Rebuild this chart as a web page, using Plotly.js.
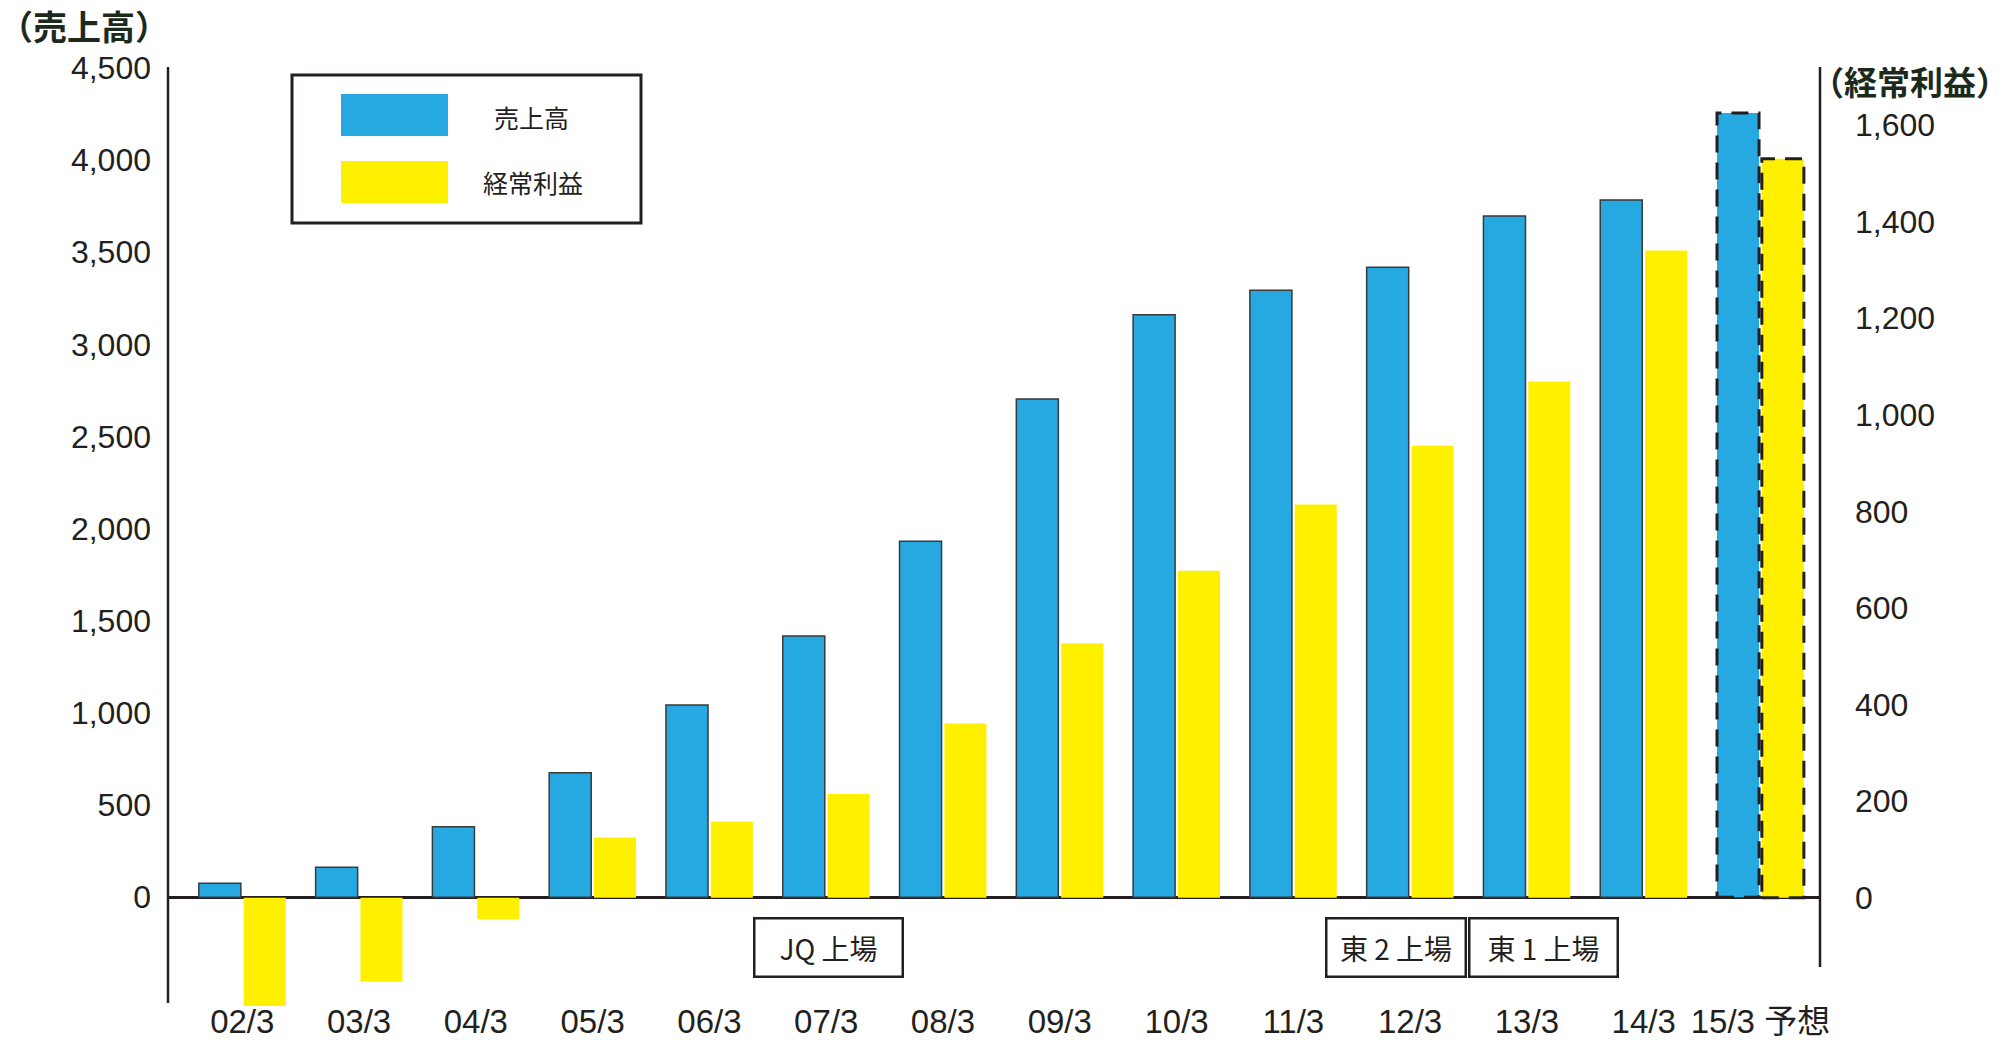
<!DOCTYPE html>
<html>
<head>
<meta charset="utf-8">
<script src="https://cdn.plot.ly/plotly-3.0.1.min.js"></script>
<style>
  html, body { margin: 0; padding: 0; background: #ffffff; }
  #chart { width: 2008px; height: 1040px; }
</style>
</head>
<body>
<div id="chart"></div>
<script>
// ---- data ----
const categories = ['02/3','03/3','04/3','05/3','06/3','07/3','08/3','09/3','10/3','11/3','12/3','13/3','14/3','15/3'];
const tickLabels = ['02/3','03/3','04/3','05/3','06/3','07/3','08/3','09/3','10/3','11/3','12/3','13/3','14/3','15/3 予想'];
const sales  = [76, 163, 383, 675, 1043, 1418, 1932, 2703, 3161, 3293, 3418, 3696, 3784, 4256];   // 売上高 (left axis)
const profit = [-228, -174, -45, 125, 158, 215, 361, 527, 677, 814, 936, 1069, 1340, 1530];      // 経常利益 (right axis)
const forecastIndex = 13;
const salesTicks  = [0, 500, 1000, 1500, 2000, 2500, 3000, 3500, 4000, 4500];
const profitTicks = [0, 200, 400, 600, 800, 1000, 1200, 1400, 1600];
const seriesNames = ['売上高', '経常利益'];
const axisTitles  = ['（売上高）', '（経常利益）'];
const listingNotes = [
  {cat: '07/3', text: 'JQ 上場'},
  {cat: '12/3', text: '東 2 上場'},
  {cat: '13/3', text: '東 1 上場'}
];

// ---- styling ----
const BLUE = '#25a9e0';
const YELLOW = '#fff000';
const INK = '#231f20';
const TITLE_INK = '#1c2a1c';
const NUM_FONT = 'Liberation Sans, Arial, sans-serif';
const XLAB_FONT = 'Liberation Sans, Arial, Noto Sans CJK JP, sans-serif';
const CJK_FONT = 'Noto Sans CJK JP, Noto Sans, sans-serif';

const BAR_W = 0.36;
const OFF_BLUE = -0.372;
const OFF_YEL = 0.012;

// plot-area pixel frame
const PL = 168, PR = 1820, PT = 67, PB = 1006;
const px = X => (X - PL) / (PR - PL);
const py = Y => (PB - Y) / (PB - PT);

const traces = [
  {
    type: 'bar', name: seriesNames[0], x: categories, y: sales, yaxis: 'y',
    width: BAR_W, offset: OFF_BLUE,
    marker: {color: BLUE, line: {color: '#3a3a3a', width: categories.map((c, i) => i === forecastIndex ? 0 : 1.5)}},
    hoverinfo: 'x+y'
  },
  {
    type: 'bar', name: seriesNames[1], x: categories, y: profit, yaxis: 'y2',
    width: BAR_W, offset: OFF_YEL,
    marker: {color: YELLOW, line: {width: 0}},
    hoverinfo: 'x+y'
  }
];

const shapes = [];
// dashed outlines around the forecast bars (from data)
shapes.push({type: 'rect', xref: 'x', yref: 'y',
  x0: forecastIndex + OFF_BLUE, x1: forecastIndex + OFF_BLUE + BAR_W, y0: 0, y1: sales[forecastIndex],
  line: {color: INK, width: 3, dash: '17px,10px'}, fillcolor: 'rgba(0,0,0,0)', layer: 'above'});
shapes.push({type: 'rect', xref: 'x', yref: 'y2',
  x0: forecastIndex + OFF_YEL, x1: forecastIndex + OFF_YEL + BAR_W, y0: 0, y1: profit[forecastIndex],
  line: {color: INK, width: 3, dash: '17px,10px'}, fillcolor: 'rgba(0,0,0,0)', layer: 'above'});
// left axis line (ends slightly above the plot bottom) and right axis line
shapes.push({type: 'line', xref: 'paper', yref: 'paper', x0: 0, x1: 0, y0: py(1003), y1: py(PT),
  line: {color: INK, width: 2.5}});
shapes.push({type: 'line', xref: 'paper', yref: 'paper', x0: 1, x1: 1, y0: py(967), y1: py(PT),
  line: {color: INK, width: 2.5}});
// legend frame and swatches
shapes.push({type: 'rect', xref: 'paper', yref: 'paper', x0: px(292), x1: px(641), y0: py(223), y1: py(75),
  line: {color: INK, width: 3}, fillcolor: '#ffffff'});
shapes.push({type: 'rect', xref: 'paper', yref: 'paper', x0: px(341), x1: px(448), y0: py(136), y1: py(94),
  line: {width: 0}, fillcolor: BLUE});
shapes.push({type: 'rect', xref: 'paper', yref: 'paper', x0: px(341), x1: px(448), y0: py(203), y1: py(161),
  line: {width: 0}, fillcolor: YELLOW});

const annotations = [];
annotations.push({xref: 'paper', yref: 'paper', x: px(531), y: py(117), text: seriesNames[0], showarrow: false,
  xanchor: 'center', yanchor: 'middle', font: {family: CJK_FONT, size: 25, color: INK}});
annotations.push({xref: 'paper', yref: 'paper', x: px(533), y: py(182), text: seriesNames[1], showarrow: false,
  xanchor: 'center', yanchor: 'middle', font: {family: CJK_FONT, size: 25, color: INK}});
// axis titles
annotations.push({xref: 'paper', yref: 'paper', x: px(84), y: py(25), text: '<b>' + axisTitles[0] + '</b>', showarrow: false,
  xanchor: 'center', yanchor: 'middle', borderpad: 0, height: 40, font: {family: CJK_FONT, size: 34, color: TITLE_INK}});
annotations.push({xref: 'paper', yref: 'paper', x: px(1910), y: py(81), text: '<b>' + axisTitles[1] + '</b>', showarrow: false,
  xanchor: 'center', yanchor: 'middle', borderpad: 0, height: 40, font: {family: CJK_FONT, size: 33, color: TITLE_INK}});
// listing notes
const noteW = [146, 137, 146];
const noteShift = [0.02, -0.12, 0.14];
listingNotes.forEach((n, k) => {
  annotations.push({xref: 'x', yref: 'paper', x: categories.indexOf(n.cat) + noteShift[k], y: py(947),
    text: n.text, showarrow: false, xanchor: 'center', yanchor: 'middle',
    width: noteW[k], height: 56, borderpad: 0, bordercolor: INK, borderwidth: 2.5, bgcolor: '#ffffff',
    font: {family: CJK_FONT, size: 28, color: INK}});
});

const layout = {
  width: 2008, height: 1040,
  margin: {l: PL, r: 2008 - PR, t: PT, b: 1040 - PB, pad: 0},
  paper_bgcolor: '#ffffff', plot_bgcolor: '#ffffff',
  showlegend: false,
  barmode: 'overlay',
  xaxis: {
    type: 'category', range: [-0.636, 13.51], tickvals: categories, ticktext: tickLabels,
    anchor: 'free', position: py(999),
    showline: false, zeroline: false, showgrid: false, ticks: '', tickangle: 0,
    tickfont: {family: XLAB_FONT, size: 33, color: INK}, automargin: false
  },
  yaxis: {
    range: [-590, 4505], tickvals: salesTicks, tickformat: ',d',
    showline: false, showgrid: false,
    zeroline: true, zerolinecolor: INK, zerolinewidth: 3,
    ticks: '', ticklabelstandoff: 16,
    tickfont: {family: NUM_FONT, size: 32, color: INK}, automargin: false
  },
  yaxis2: {
    overlaying: 'y', side: 'right', range: [-224, 1720], tickvals: profitTicks, tickformat: ',d',
    showline: false, showgrid: false, zeroline: false, ticks: '', ticklabelstandoff: 34,
    tickfont: {family: NUM_FONT, size: 32, color: INK}, automargin: false
  },
  shapes: shapes,
  annotations: annotations
};

Plotly.newPlot('chart', traces, layout, {displayModeBar: false, staticPlot: true});
</script>
</body>
</html>
